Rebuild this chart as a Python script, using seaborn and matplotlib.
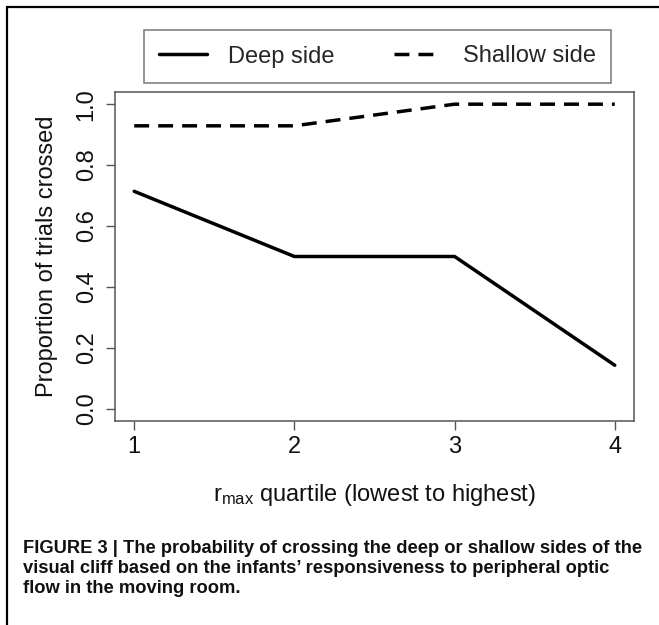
import pandas as pd
import seaborn as sns
import matplotlib.pyplot as plt
from matplotlib.patches import Rectangle

# data
quartiles = [1, 2, 3, 4]
deep_side = [0.714, 0.5, 0.5, 0.143]
shallow_side = [0.929, 0.929, 1.0, 1.0]
series_names = ["Deep side", "Shallow side"]
y_ticks = [0.0, 0.2, 0.4, 0.6, 0.8, 1.0]
caption_lines = [
    "FIGURE 3 | The probability of crossing the deep or shallow sides of the",
    "visual cliff based on the infants\u2019 responsiveness to peripheral optic",
    "flow in the moving room.",
]

df = pd.DataFrame({
    "quartile": quartiles * 2,
    "prop": deep_side + shallow_side,
    "side": [series_names[0]] * 4 + [series_names[1]] * 4,
})

sns.set_theme(style="white")
plt.rcParams["font.family"] = ["Liberation Sans", "DejaVu Sans"]
plt.rcParams["mathtext.fontset"] = "custom"
plt.rcParams["mathtext.rm"] = "Liberation Sans"

W, H = 659, 625
fig = plt.figure(figsize=(W / 100, H / 100), dpi=100)
# plot box in pixels: x 115..634, y 92..421
ax = fig.add_axes([115 / W, 1 - 421 / H, 519 / W, 329 / H])

dash = (4.3, 2.6)
sns.lineplot(
    data=df, x="quartile", y="prop", hue="side", style="side",
    palette={series_names[0]: "black", series_names[1]: "black"},
    dashes={series_names[0]: "", series_names[1]: dash},
    linewidth=2.5, legend=False, ax=ax,
)

ax.set_xlim(0.88, 4.12)
ax.set_ylim(-0.04, 1.04)
ax.set_xticks(quartiles)
ax.set_xticklabels([str(q) for q in quartiles], fontsize=17)
ax.set_yticks(y_ticks)
ax.set_yticklabels([f"{t:.1f}" for t in y_ticks], fontsize=17,
                   rotation=90, va="center")
ax.tick_params(axis="both", direction="out", length=6.5, width=1,
               color="#555555", labelcolor="#111111",
               left=True, bottom=True)
ax.tick_params(axis="x", pad=4)
ax.tick_params(axis="y", pad=6)
for sp in ax.spines.values():
    sp.set_color("#555555")
    sp.set_linewidth(1.1)

ax.set_xlabel(r"$\mathregular{r_{max}}$ quartile (lowest to highest)",
              fontsize=17, color="#111111")
ax.xaxis.set_label_coords(0.5, (421 - 482) / 329)
ax.set_ylabel("Proportion of trials crossed", fontsize=17, color="#111111")
ax.yaxis.set_label_coords((58 - 115) / 519, 0.5)

# legend box above the plot
handles = [
    plt.Line2D([], [], color="black", lw=2.5),
    plt.Line2D([], [], color="black", lw=2.5, dashes=dash),
]
leg = fig.legend(handles, series_names, ncol=2, mode="expand",
                 bbox_to_anchor=(144 / W, 1 - 85 / H, 467 / W, 57 / H),
                 loc="center", fontsize=17, frameon=True, fancybox=False,
                 edgecolor="#555555", handlelength=2.0, handletextpad=0.9,
                 borderpad=0.65, borderaxespad=0)
leg.get_frame().set_linewidth(1.1)

# figure caption, one text per line
for i, line in enumerate(caption_lines):
    fig.text(23 / W, 1 - (553 + 20 * i) / H, line, ha="left", va="baseline",
             fontsize=13.2, fontweight="bold", color="#111111")

# outer frame (only top and left edges fall inside the image)
fig.patches.append(Rectangle((7 / W, -0.1), 1.2, 1.1 - 7 / H,
                             transform=fig.transFigure, fill=False,
                             edgecolor="black", linewidth=1.6))

fig.savefig("out.png", dpi=100)
